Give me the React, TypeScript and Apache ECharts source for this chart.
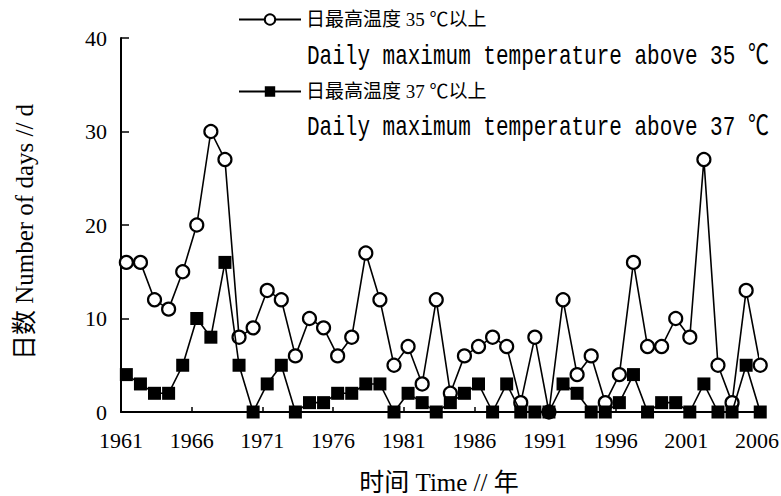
import React, { useEffect, useRef } from "react";
import * as echarts from "echarts";

const years = [
  "1961", "1962", "1963", "1964", "1965", "1966", "1967", "1968", "1969", "1970",
  "1971", "1972", "1973", "1974", "1975", "1976", "1977", "1978", "1979", "1980",
  "1981", "1982", "1983", "1984", "1985", "1986", "1987", "1988", "1989", "1990",
  "1991", "1992", "1993", "1994", "1995", "1996", "1997", "1998", "1999", "2000",
  "2001", "2002", "2003", "2004", "2005", "2006",
];

const above35 = [
  16, 16, 12, 11, 15, 20, 30, 27, 8, 9,
  13, 12, 6, 10, 9, 6, 8, 17, 12, 5,
  7, 3, 12, 2, 6, 7, 8, 7, 1, 8,
  0, 12, 4, 6, 1, 4, 16, 7, 7, 10,
  8, 27, 5, 1, 13, 5,
];

const above37 = [
  4, 3, 2, 2, 5, 10, 8, 16, 5, 0,
  3, 5, 0, 1, 1, 2, 2, 3, 3, 0,
  2, 1, 0, 1, 2, 3, 0, 3, 0, 0,
  0, 3, 2, 0, 0, 1, 4, 0, 1, 1,
  0, 3, 0, 0, 5, 0,
];

const seriesNames = ["日最高温度 35 ℃以上", "日最高温度 37 ℃以上"];
const seriesNamesEn = [
  "Daily maximum temperature above 35 ℃",
  "Daily maximum temperature above 37 ℃",
];
const yTicks = { min: 0, max: 40, interval: 10 };
const yName = "日数 Number of days // d";
const xName = "时间 Time // 年";

const SERIF = "'Liberation Serif', 'Noto Sans CJK SC', serif";
const MONO = "'Liberation Mono', 'Noto Sans CJK SC', monospace";

export default function App() {
  const ref = useRef<HTMLDivElement>(null);

  useEffect(() => {
    if (!ref.current) return;
    const chart = echarts.init(ref.current, null, { renderer: "svg" });
    const pairs = (vals: number[]) => vals.map((v, i) => [Number(years[i]), v]);

    chart.setOption({
      animation: false,
      backgroundColor: "#ffffff",
      grid: {
        left: 121,
        right: 24,
        top: 38,
        bottom: 84,
        containLabel: false,
        outerBoundsMode: "none",
      },
      legend: {
        orient: "vertical",
        left: 238,
        top: 10,
        padding: 0,
        itemWidth: 62,
        itemHeight: 13,
        itemGap: 53,
        textStyle: { fontSize: 19, color: "#000", fontFamily: SERIF },
        data: seriesNames,
      },
      graphic: [
        {
          type: "text",
          x: 307,
          y: 57,
          scaleY: 1.3,
          style: {
            text: seriesNamesEn[0],
            fontSize: 21,
            fontFamily: MONO,
            fill: "#000",
            textVerticalAlign: "middle",
          },
        },
        {
          type: "text",
          x: 307,
          y: 128,
          scaleY: 1.3,
          style: {
            text: seriesNamesEn[1],
            fontSize: 21,
            fontFamily: MONO,
            fill: "#000",
            textVerticalAlign: "middle",
          },
        },
      ],
      xAxis: [
        {
          type: "category",
          data: years,
          boundaryGap: false,
          name: xName,
          nameLocation: "middle",
          nameGap: 58,
          nameTextStyle: { fontSize: 25, color: "#000", fontFamily: SERIF },
          axisLine: { lineStyle: { color: "#000", width: 2 } },
          axisTick: { inside: true, length: 5, interval: 4, lineStyle: { color: "#000", width: 1.5 } },
          axisLabel: { interval: 4, fontSize: 22, color: "#000", fontFamily: SERIF, margin: 17 },
          splitLine: { show: false },
        },
        {
          type: "value",
          min: 1960.62,
          max: 2005.77,
          show: false,
          splitLine: { show: false },
        },
      ],
      yAxis: {
        type: "value",
        min: yTicks.min,
        max: yTicks.max,
        interval: yTicks.interval,
        name: yName,
        nameLocation: "middle",
        nameRotate: 90,
        nameGap: 84,
        nameTextStyle: {
          fontSize: 25,
          color: "#000",
          fontFamily: SERIF,
          padding: [0, 14, 0, 0],
        },
        axisLine: { show: true, lineStyle: { color: "#000", width: 2 } },
        axisTick: { show: true, inside: true, length: 8, lineStyle: { color: "#000", width: 1.5 } },
        axisLabel: { fontSize: 22, color: "#000", fontFamily: SERIF, margin: 14 },
        splitLine: { show: false },
      },
      series: [
        {
          name: seriesNames[0],
          type: "line",
          xAxisIndex: 1,
          data: pairs(above35),
          symbol: "circle",
          symbolSize: 13,
          showAllSymbol: true,
          clip: false,
          lineStyle: { color: "#000", width: 1.6 },
          itemStyle: { color: "#fff", borderColor: "#000", borderWidth: 2.2 },
          z: 2,
        },
        {
          name: seriesNames[1],
          type: "line",
          xAxisIndex: 1,
          data: pairs(above37),
          symbol: "rect",
          symbolSize: 13,
          showAllSymbol: true,
          clip: false,
          lineStyle: { color: "#000", width: 1.6 },
          itemStyle: { color: "#000", borderColor: "#000", borderWidth: 0 },
          z: 3,
        },
      ],
    });

    return () => chart.dispose();
  }, []);

  return <div ref={ref} style={{ width: 781, height: 496, position: "absolute", left: 0, top: 0 }} />;
}
